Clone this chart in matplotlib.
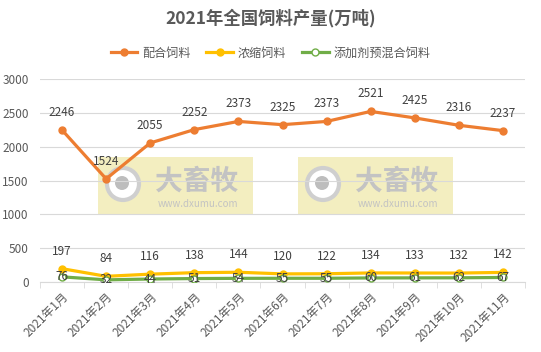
import numpy as np
import matplotlib.pyplot as plt
from matplotlib.patches import Rectangle, Circle

plt.rcParams['font.family'] = ['Noto Sans CJK SC', 'DejaVu Sans']

# Data
months = [f"2021年{i}月" for i in range(1, 12)]
compound_feed = [2246, 1524, 2055, 2252, 2373, 2325, 2373, 2521, 2425, 2316, 2237]
concentrate_feed = [197, 84, 116, 138, 144, 120, 122, 134, 133, 132, 142]
premix_feed = [76, 32, 44, 51, 54, 55, 55, 60, 61, 62, 67]

# Colors
orange = "#ED7D31"
yellow = "#FFC000"
green = "#70AD47"
text_gray = "#595959"

fig = plt.figure(figsize=(5.41, 3.52), dpi=100)
ax = fig.add_axes([40 / 541, 1 - 282 / 352, 485 / 541, 203 / 352])
x = np.arange(len(months))

# Watermarks (kept underneath the axes content)
for x0 in [98, 298]:
    fx0, fy0 = x0 / 541, 1 - 215 / 352
    fig.patches.append(Rectangle((fx0, fy0), 155 / 541, 58 / 352, transform=fig.transFigure,
                                 facecolor="#F2EBB5", edgecolor="none", alpha=0.85, zorder=-2))
    fig.patches.append(Circle((x0 + 25, 352 - 184), 16, transform=None,
                              facecolor="white", edgecolor="#CFCFCF", linewidth=3, zorder=-2))
    fig.patches.append(Circle((x0 + 24, 352 - 183), 7, transform=None,
                              facecolor="#BDBDBD", edgecolor="none", zorder=-2))
    fig.text((x0 + 99) / 541, 1 - 182 / 352, "大畜牧", fontsize=20, fontweight="bold",
             color="#C3C3C3", ha="center", va="center", zorder=-1)
    fig.text((x0 + 100) / 541, 1 - 204 / 352, "www.dxumu.com", fontsize=7,
             color="#C3C3C3", ha="center", va="center", zorder=-1)

# Lines
ax.plot(x, compound_feed, color=orange, linewidth=2.3, marker="o", markersize=5, label="配合饲料", zorder=3)
ax.plot(x, concentrate_feed, color=yellow, linewidth=2.3, marker="o", markersize=5, label="浓缩饲料", zorder=3)
ax.plot(x, premix_feed, color=green, linewidth=2.3, marker="o", markersize=5,
        markerfacecolor="white", label="添加剂预混合饲料", zorder=3)

# Data labels (drawn above the lines)
for xi, v in zip(x, compound_feed):
    ax.annotate(str(v), (xi, v), xytext=(0, 8), textcoords="offset points",
                ha="center", va="bottom", fontsize=8.5, color="#404040", zorder=5)
for xi, v in zip(x, concentrate_feed):
    ax.annotate(str(v), (xi, v), xytext=(0, 8), textcoords="offset points",
                ha="center", va="bottom", fontsize=8.5, color="#404040", zorder=5)
for xi, v in zip(x, premix_feed):
    ax.annotate(str(v), (xi, v), xytext=(0, 0), textcoords="offset points",
                ha="center", va="center", fontsize=8.5, color="#404040", zorder=5)

# Axes formatting
ax.set_xlim(-0.5, len(months) - 0.5)
ax.set_ylim(0, 3000)
ax.set_yticks(np.arange(0, 3001, 500))
ax.set_xticks(x)
ax.set_xticklabels(months, rotation=45, ha="right", rotation_mode="anchor")
ax.set_xticks(np.arange(-0.5, len(months)), minor=True)
ax.tick_params(axis="x", which="major", length=0, labelsize=8.5, colors=text_gray, pad=6)
ax.tick_params(axis="x", which="minor", length=4, color="#D9D9D9")
ax.tick_params(axis="y", length=0, labelsize=8.5, colors=text_gray, pad=8)
ax.grid(axis="y", color="#D9D9D9", linewidth=0.8)
ax.set_axisbelow(True)
ax.set_facecolor("none")
for side in ["top", "right", "left"]:
    ax.spines[side].set_visible(False)
ax.spines["bottom"].set_color("#D9D9D9")

# Title and legend
fig.text(0.5, 1 - 18 / 352, "2021年全国饲料产量(万吨)", ha="center", va="center",
         fontsize=12.5, fontweight="bold", color=text_gray)
fig.legend(loc="center", bbox_to_anchor=(0.5, 1 - 53 / 352), ncol=3, frameon=False,
           fontsize=8.7, labelcolor=text_gray, handlelength=2.2, handletextpad=0.4,
           columnspacing=1.3)

fig.savefig("out.png", dpi=100)
